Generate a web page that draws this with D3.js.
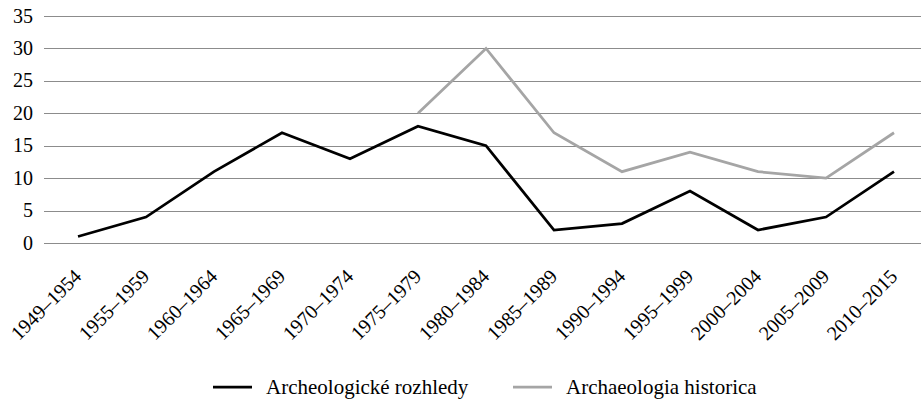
<!DOCTYPE html>
<html>
<head>
<meta charset="utf-8">
<script src="https://cdn.jsdelivr.net/npm/d3@7.9.0/dist/d3.min.js"></script>
<style>
  body { margin: 0; background: #fff; }
  #chart text { font-family: Liberation Serif, Times New Roman, serif; }
</style>
</head>
<body>
<svg id="chart" width="921" height="408"></svg>
<script>
// periods on the x axis
const periods = ['1949–1954', '1955–1959', '1960–1964', '1965–1969', '1970–1974', '1975–1979',
  '1980–1984', '1985–1989', '1990–1994', '1995–1999', '2000–2004', '2005–2009', '2010–2015'];

// series values (null = journal not yet published)
const rozhledy = [1, 4, 11, 17, 13, 18, 15, 2, 3, 8, 2, 4, 11];
const historica = [null, null, null, null, null, 20, 30, 17, 11, 14, 11, 10, 17];

const yTicks = [0, 5, 10, 15, 20, 25, 30, 35];

const series = [
  { name: 'Archeologické rozhledy', values: rozhledy, color: '#000000' },
  { name: 'Archaeologia historica', values: historica, color: '#a5a5a5' }
];

const svg = d3.select('#chart');

const x = d3.scalePoint()
  .domain(periods)
  .range([78, 894]);

const y = d3.scaleLinear()
  .domain([0, 35])
  .range([243, 16]);

// horizontal gridlines
svg.append('g')
  .selectAll('line')
  .data(yTicks)
  .join('line')
  .attr('x1', 44)
  .attr('x2', 921)
  .attr('y1', d => Math.round(y(d)) + 0.5)
  .attr('y2', d => Math.round(y(d)) + 0.5)
  .attr('stroke', '#8c8c8c')
  .attr('stroke-width', 1);

// y tick labels
svg.append('g')
  .selectAll('text')
  .data(yTicks)
  .join('text')
  .attr('x', 33)
  .attr('y', d => y(d))
  .attr('dy', '0.33em')
  .attr('text-anchor', 'end')
  .style('font-size', '20px')
  .attr('fill', '#000')
  .text(d => d);

// x tick labels, rotated
svg.append('g')
  .selectAll('text')
  .data(periods)
  .join('text')
  .attr('transform', d => `translate(${x(d)},${273}) rotate(-45)`)
  .attr('text-anchor', 'end')
  .attr('dy', '0.33em')
  .style('font-size', '20px')
  .attr('fill', '#000')
  .text(d => d);

const line = d3.line()
  .defined(d => d.v != null)
  .x(d => x(d.p))
  .y(d => y(d.v));

svg.append('g')
  .selectAll('path')
  .data(series)
  .join('path')
  .attr('fill', 'none')
  .attr('stroke', d => d.color)
  .attr('stroke-width', 2.75)
  .attr('stroke-linejoin', 'miter')
  .attr('d', d => line(d.values.map((v, i) => ({ p: periods[i], v }))));

// legend
const legendX = [213, 513];
const legend = svg.append('g')
  .selectAll('g')
  .data(series)
  .join('g')
  .attr('transform', (d, i) => `translate(${legendX[i]},387)`);

legend.append('line')
  .attr('x1', 0)
  .attr('x2', 39)
  .attr('stroke', d => d.color)
  .attr('stroke-width', 2.75);

legend.append('text')
  .attr('x', 53)
  .attr('dy', '0.33em')
  .style('font-size', '21px')
  .attr('fill', '#000')
  .text(d => d.name);
</script>
</body>
</html>
